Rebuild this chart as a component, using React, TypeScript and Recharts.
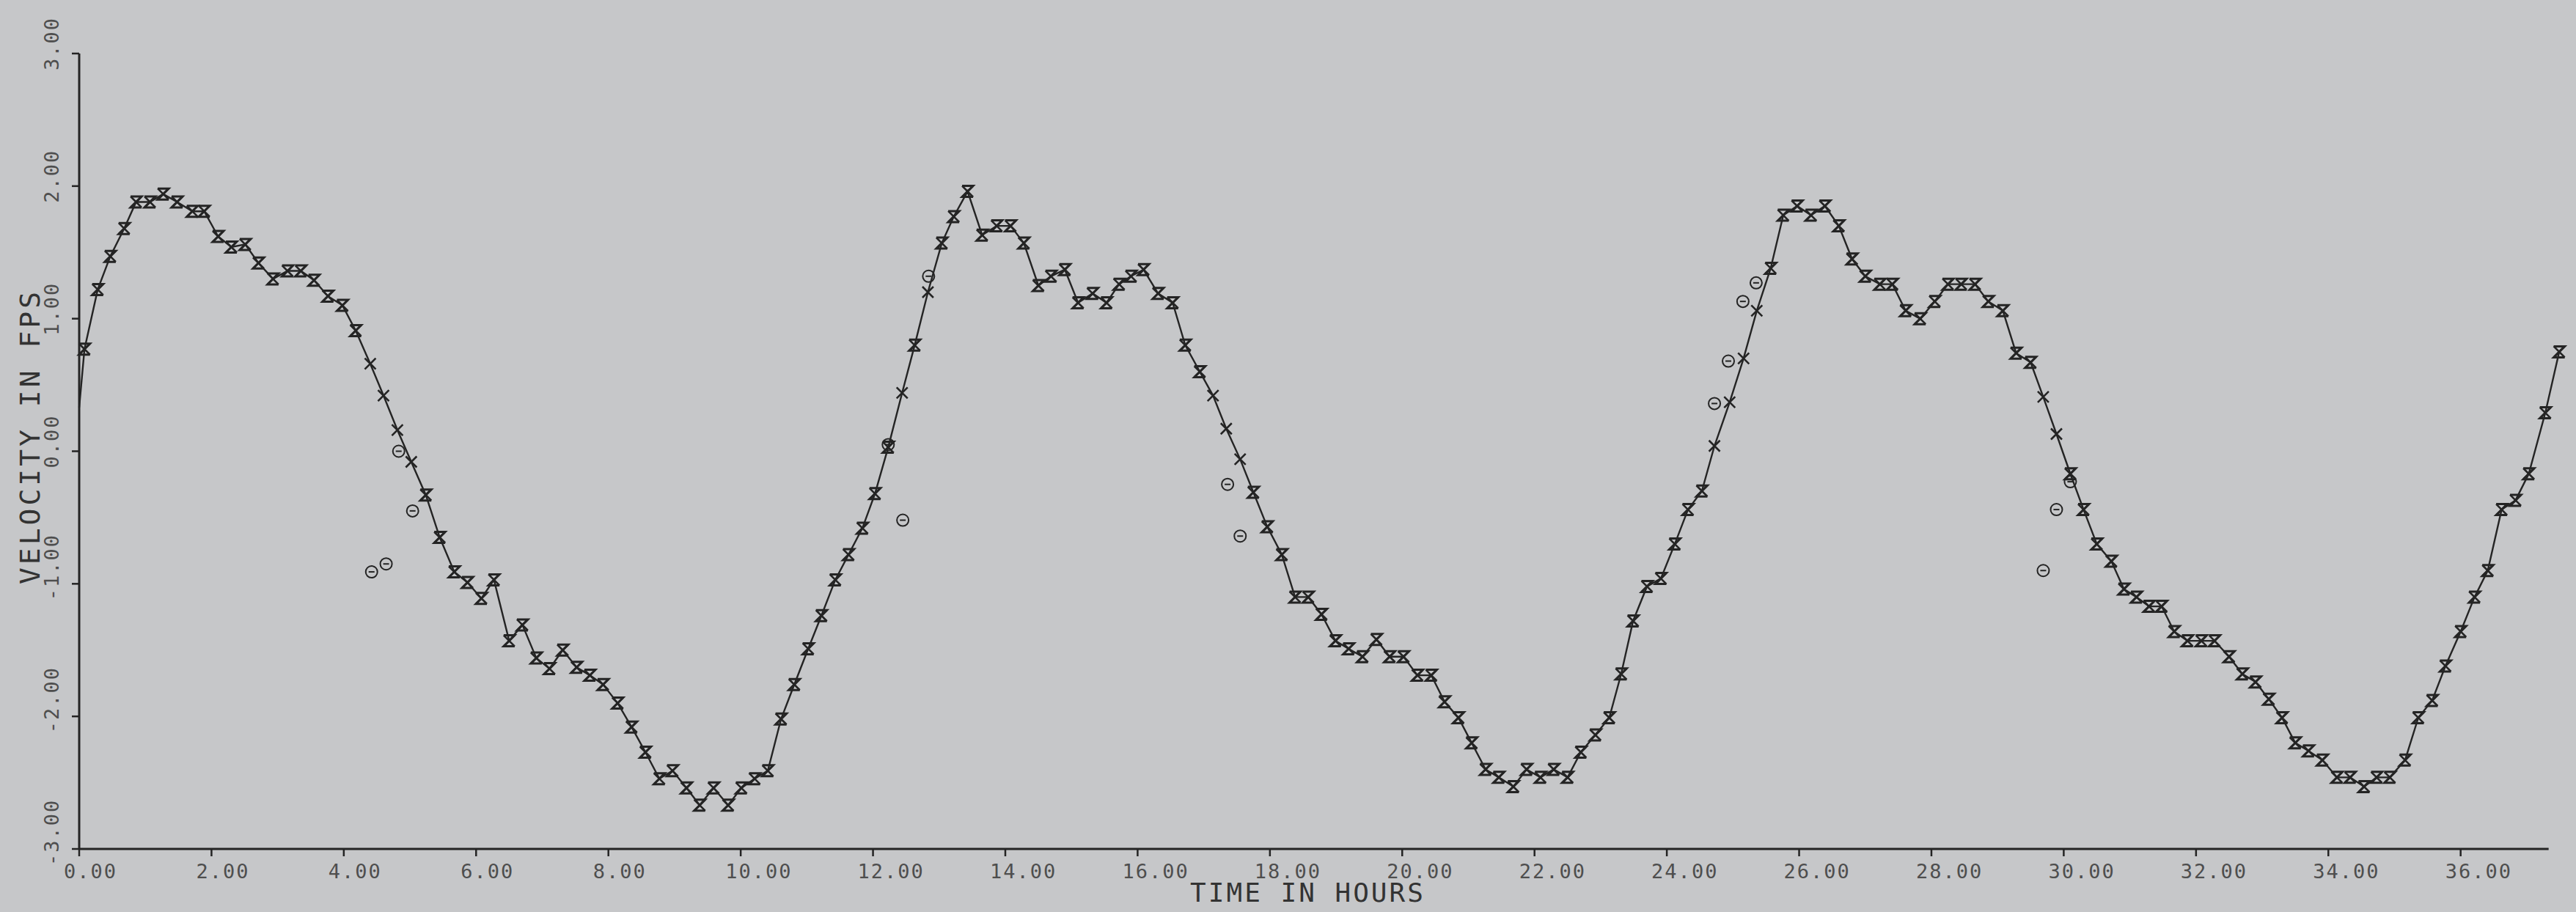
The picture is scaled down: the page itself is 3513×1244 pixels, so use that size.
import React from "react";
import { ComposedChart, Line, Scatter, XAxis, YAxis, ReferenceLine } from "recharts";

// ---- data ----
const times = [
  0, 0.08, 0.28, 0.47, 0.68, 0.86, 1.07, 1.27, 1.48, 1.71,
  1.89, 2.1, 2.3, 2.51, 2.71, 2.93, 3.15, 3.35, 3.55, 3.76,
  3.98, 4.18, 4.4, 4.6, 4.81, 5.02, 5.24, 5.45, 5.67, 5.87,
  6.08, 6.27, 6.5, 6.7, 6.91, 7.11, 7.31, 7.52, 7.72, 7.92,
  8.14, 8.35, 8.56, 8.77, 8.97, 9.18, 9.38, 9.59, 9.81, 10.01,
  10.21, 10.41, 10.61, 10.81, 11.02, 11.22, 11.43, 11.63, 11.84, 12.03,
  12.23, 12.44, 12.63, 12.83, 13.04, 13.22, 13.43, 13.65, 13.87, 14.08,
  14.28, 14.5, 14.69, 14.9, 15.1, 15.32, 15.53, 15.72, 15.9, 16.09,
  16.31, 16.53, 16.72, 16.94, 17.14, 17.34, 17.55, 17.75, 17.96, 18.18,
  18.38, 18.58, 18.78, 18.99, 19.19, 19.4, 19.61, 19.81, 20.02, 20.23,
  20.44, 20.64, 20.85, 21.05, 21.26, 21.46, 21.68, 21.88, 22.09, 22.29,
  22.5, 22.7, 22.92, 23.13, 23.31, 23.49, 23.7, 23.91, 24.12, 24.32,
  24.53, 24.72, 24.95, 25.16, 25.36, 25.57, 25.76, 25.97, 26.18, 26.39,
  26.6, 26.8, 27.0, 27.22, 27.41, 27.61, 27.83, 28.05, 28.25, 28.45,
  28.66, 28.86, 29.08, 29.28, 29.5, 29.69, 29.89, 30.1, 30.3, 30.5,
  30.72, 30.91, 31.1, 31.29, 31.48, 31.67, 31.87, 32.08, 32.28, 32.5,
  32.7, 32.9, 33.1, 33.3, 33.5, 33.7, 33.91, 34.13, 34.33, 34.54,
  34.73, 34.93, 35.16, 35.36, 35.57, 35.77, 36.0, 36.21, 36.41, 36.62,
  36.83, 37.03, 37.28, 37.49,
];

const velocity = [
  0.33, 0.77, 1.22, 1.47, 1.68, 1.88, 1.88, 1.94, 1.88, 1.81,
  1.81, 1.62, 1.54, 1.56, 1.42, 1.3, 1.36, 1.36, 1.29, 1.17,
  1.1, 0.91, 0.66, 0.42, 0.16, -0.08, -0.33, -0.65, -0.91, -0.99,
  -1.11, -0.97, -1.43, -1.31, -1.56, -1.64, -1.5, -1.63, -1.69, -1.76,
  -1.9, -2.08, -2.27, -2.47, -2.41, -2.54, -2.67, -2.54, -2.67, -2.54,
  -2.47, -2.41, -2.02, -1.76, -1.49, -1.24, -0.97, -0.78, -0.58, -0.32,
  0.03, 0.44, 0.8, 1.2, 1.57, 1.77, 1.96, 1.63, 1.7, 1.7,
  1.57, 1.25, 1.32, 1.37, 1.12, 1.19, 1.12, 1.26, 1.32, 1.37,
  1.19, 1.12, 0.8, 0.6, 0.42, 0.17, -0.06, -0.31, -0.57, -0.78,
  -1.1, -1.1, -1.23, -1.43, -1.49, -1.55, -1.42, -1.55, -1.55, -1.69,
  -1.69, -1.89, -2.01, -2.2, -2.4, -2.46, -2.53, -2.4, -2.46, -2.4,
  -2.46, -2.27, -2.14, -2.01, -1.68, -1.28, -1.02, -0.96, -0.7, -0.44,
  -0.3, 0.04, 0.37, 0.7, 1.06, 1.38, 1.78, 1.85, 1.78, 1.85,
  1.7, 1.45, 1.32, 1.26, 1.26, 1.06, 1.0, 1.13, 1.26, 1.26,
  1.26, 1.13, 1.06, 0.74, 0.67, 0.41, 0.13, -0.17, -0.44, -0.7,
  -0.83, -1.04, -1.1, -1.17, -1.17, -1.36, -1.43, -1.43, -1.43, -1.55,
  -1.68, -1.74, -1.87, -2.01, -2.2, -2.26, -2.33, -2.46, -2.46, -2.53,
  -2.46, -2.46, -2.33, -2.01, -1.88, -1.62, -1.36, -1.1, -0.9, -0.44,
  -0.37, -0.17, 0.29, 0.75,
];

// times with no plotted symbol (line start) and times with only the "X" symbol
const unmarkedTimes = [0];
const xOnlyTimes = [4.4, 4.6, 4.81, 5.02, 12.44, 12.83, 17.14, 17.34, 17.55, 24.72, 24.95, 25.16, 25.36, 29.69, 29.89];

// separate "theta" observations
const thetaTimes = [4.42, 4.64, 4.83, 5.04, 12.23, 12.45, 12.84, 17.36, 17.55, 24.72, 24.93, 25.15, 25.35, 29.69, 29.89, 30.1];
const thetaValues = [-0.91, -0.85, 0.0, -0.45, 0.05, -0.52, 1.32, -0.25, -0.64, 0.36, 0.68, 1.13, 1.27, -0.9, -0.44, -0.23];

const xTicks = [0, 2, 4, 6, 8, 10, 12, 14, 16, 18, 20, 22, 24, 26, 28, 30, 32, 34, 36];
const xTickLabels = ["0.00", "2.00", "4.00", "6.00", "8.00", "10.00", "12.00", "14.00", "16.00", "18.00", "20.00", "22.00", "24.00", "26.00", "28.00", "30.00", "32.00", "34.00", "36.00"];
const yTicks = [-3, -2, -1, 0, 1, 2, 3];
const yTickLabels = ["-3.00", "-2.00", "-1.00", "0.00", "1.00", "2.00", "3.00"];
const xAxisEnd = 37.33;

const xTitle = "TIME IN HOURS";
const yTitle = "VELOCITY IN FPS";

// ---- tables built from the arrays ----
const rows = times.map((t, i) => ({
  t,
  v: velocity[i],
  mark: !unmarkedTimes.includes(t),
  obs: unmarkedTimes.includes(t) || xOnlyTimes.includes(t) ? null : velocity[i],
}));
const thetaRows = thetaTimes.map((t, i) => ({ t, v: thetaValues[i] }));

// ---- styles ----
const INK = "#242424";
const TICK_INK = "#4e4e4e";
const BG = "#c6c7c9";
const MONO = "'DejaVu Sans Mono', 'Liberation Mono', monospace";
const S = 7.5;

function XDot(props: any) {
  const { cx, cy, payload, index } = props;
  if (cx == null || cy == null || !payload || !payload.mark) return <g key={`xd${index}`} />;
  return (
    <path
      key={`xd${index}`}
      d={`M${cx - S},${cy - S}L${cx + S},${cy + S}M${cx + S},${cy - S}L${cx - S},${cy + S}`}
      stroke={INK}
      strokeWidth={2.6}
      fill="none"
    />
  );
}

function ZDot(props: any) {
  const { cx, cy, value, index } = props;
  if (cx == null || cy == null || value == null || (Array.isArray(value) && value[1] == null))
    return <g key={`zd${index}`} />;
  return (
    <path
      key={`zd${index}`}
      d={`M${cx - S},${cy - S}H${cx + S}L${cx - S},${cy + S}H${cx + S}`}
      stroke={INK}
      strokeWidth={3}
      fill="none"
    />
  );
}

function ThetaShape(props: any) {
  const { cx, cy } = props;
  if (cx == null || cy == null) return <g />;
  return (
    <g>
      <circle cx={cx} cy={cy} r={8} fill="none" stroke={INK} strokeWidth={2} />
      <line x1={cx - 4} y1={cy} x2={cx + 4} y2={cy} stroke={INK} strokeWidth={2} />
    </g>
  );
}

function XTick(props: any) {
  const { x, y, payload } = props;
  const label = xTickLabels[xTicks.indexOf(payload.value)];
  return (
    <text x={x - 21} y={y + 28} fontFamily={MONO} fontSize={27} letterSpacing={2} fill={TICK_INK} textAnchor="start">
      {label}
    </text>
  );
}

function YTick(props: any) {
  const { x, y, payload } = props;
  const label = yTickLabels[yTicks.indexOf(payload.value)];
  const bx = x - 16;
  const by = y + 23;
  return (
    <text
      x={bx}
      y={by}
      transform={`rotate(-90 ${bx} ${by})`}
      fontFamily={MONO}
      fontSize={27}
      letterSpacing={2}
      fill={TICK_INK}
      textAnchor="start"
    >
      {label}
    </text>
  );
}

function XTitle(props: any) {
  const vb = props.viewBox;
  const cx = vb.x + vb.width / 2 - 16;
  return (
    <text x={cx} y={vb.y + 72} fontFamily={MONO} fontSize={36} letterSpacing={3} fill="#333" textAnchor="middle">
      {xTitle}
    </text>
  );
}

function YTitle(props: any) {
  const vb = props.viewBox;
  const bx = 54;
  const by = vb.y + vb.height / 2 - 20;
  return (
    <text
      x={bx}
      y={by}
      transform={`rotate(-90 ${bx} ${by})`}
      fontFamily={MONO}
      fontSize={38}
      letterSpacing={4}
      fill="#333"
      textAnchor="middle"
    >
      {yTitle}
    </text>
  );
}

export default function App() {
  return (
    <div style={{ position: "absolute", left: 0, top: 0, width: 3513, height: 1244, background: BG }}>
      <ComposedChart
        width={3513}
        height={1244}
        data={rows}
        margin={{ top: 73, right: 22, left: 8, bottom: 0 }}
      >
        <XAxis
          type="number"
          dataKey="t"
          domain={[0, 37.5]}
          ticks={xTicks}
          interval={0}
          height={86}
          axisLine={false}
          tickLine={{ stroke: INK, strokeWidth: 2.5 }}
          tickSize={10}
          tick={<XTick />}
          label={<XTitle />}
        />
        <YAxis
          type="number"
          domain={[-3, 3]}
          ticks={yTicks}
          interval={0}
          width={100}
          axisLine={{ stroke: INK, strokeWidth: 3 }}
          tickLine={{ stroke: INK, strokeWidth: 2.5 }}
          tickSize={10}
          tick={<YTick />}
          label={<YTitle />}
        />
        <ReferenceLine
          segment={[{ x: 0, y: -3 }, { x: xAxisEnd, y: -3 }]}
          stroke={INK}
          strokeWidth={3}
          ifOverflow="visible"
        />
        <Line
          type="linear"
          dataKey="v"
          stroke={INK}
          strokeWidth={2.4}
          dot={XDot}
          activeDot={false}
          isAnimationActive={false}
        />
        <Line
          type="linear"
          dataKey="obs"
          stroke="none"
          dot={ZDot}
          activeDot={false}
          connectNulls={false}
          isAnimationActive={false}
        />
        <Scatter data={thetaRows} dataKey="v" shape={ThetaShape} isAnimationActive={false} />
      </ComposedChart>
    </div>
  );
}
